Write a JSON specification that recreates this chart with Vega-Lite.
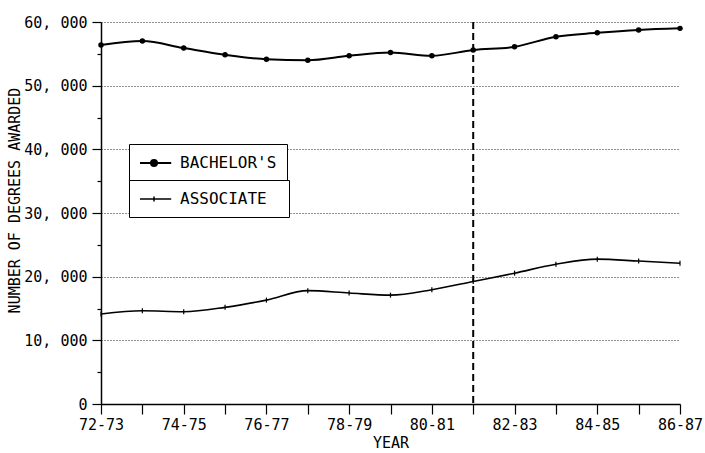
{
  "$schema": "https://vega.github.io/schema/vega-lite/v6.json",
  "width": 579,
  "height": 382,
  "autosize": "none",
  "padding": {"left": 101, "top": 22, "right": 25, "bottom": 49},
  "background": "white",
  "config": {
    "view": {"stroke": null},
    "font": "DejaVu Sans Mono",
    "axis": {
      "labelFont": "DejaVu Sans Mono",
      "titleFont": "DejaVu Sans Mono",
      "labelColor": "black",
      "titleColor": "black",
      "domainColor": "black",
      "tickColor": "black",
      "labelFontSize": 15,
      "titleFontSize": 15,
      "titleFontWeight": "normal"
    }
  },
  "datasets": {
    "degrees": [
      {"year": "72-73", "series": "BACHELOR'S", "degrees": 56400},
      {"year": "73-74", "series": "BACHELOR'S", "degrees": 57000},
      {"year": "74-75", "series": "BACHELOR'S", "degrees": 55900},
      {"year": "75-76", "series": "BACHELOR'S", "degrees": 54850},
      {"year": "76-77", "series": "BACHELOR'S", "degrees": 54150},
      {"year": "77-78", "series": "BACHELOR'S", "degrees": 54000},
      {"year": "78-79", "series": "BACHELOR'S", "degrees": 54700},
      {"year": "79-80", "series": "BACHELOR'S", "degrees": 55200},
      {"year": "80-81", "series": "BACHELOR'S", "degrees": 54700},
      {"year": "81-82", "series": "BACHELOR'S", "degrees": 55600},
      {"year": "82-83", "series": "BACHELOR'S", "degrees": 56100},
      {"year": "83-84", "series": "BACHELOR'S", "degrees": 57700},
      {"year": "84-85", "series": "BACHELOR'S", "degrees": 58300},
      {"year": "85-86", "series": "BACHELOR'S", "degrees": 58750},
      {"year": "86-87", "series": "BACHELOR'S", "degrees": 59000},
      {"year": "72-73", "series": "ASSOCIATE", "degrees": 14130},
      {"year": "73-74", "series": "ASSOCIATE", "degrees": 14650},
      {"year": "74-75", "series": "ASSOCIATE", "degrees": 14500},
      {"year": "75-76", "series": "ASSOCIATE", "degrees": 15180},
      {"year": "76-77", "series": "ASSOCIATE", "degrees": 16320},
      {"year": "77-78", "series": "ASSOCIATE", "degrees": 17800},
      {"year": "78-79", "series": "ASSOCIATE", "degrees": 17430},
      {"year": "79-80", "series": "ASSOCIATE", "degrees": 17100},
      {"year": "80-81", "series": "ASSOCIATE", "degrees": 17950},
      {"year": "81-82", "series": "ASSOCIATE", "degrees": 19250},
      {"year": "82-83", "series": "ASSOCIATE", "degrees": 20550},
      {"year": "83-84", "series": "ASSOCIATE", "degrees": 21950},
      {"year": "84-85", "series": "ASSOCIATE", "degrees": 22750},
      {"year": "85-86", "series": "ASSOCIATE", "degrees": 22450},
      {"year": "86-87", "series": "ASSOCIATE", "degrees": 22100}
    ],
    "marker": [{"year": "81-82"}]
  },
  "data": {"name": "degrees"},
  "encoding": {
    "x": {
      "field": "year",
      "type": "ordinal",
      "title": "YEAR",
      "scale": {
        "type": "point",
        "padding": 0,
        "domain": ["72-73", "73-74", "74-75", "75-76", "76-77", "77-78", "78-79", "79-80", "80-81", "81-82", "82-83", "83-84", "84-85", "85-86", "86-87"]
      },
      "axis": {
        "labelAngle": 0,
        "labelExpr": "indexof(['72-73','74-75','76-77','78-79','80-81','82-83','84-85','86-87'], datum.value) >= 0 ? datum.value : ''",
        "tickSize": 10,
        "tickWidth": 1.2,
        "domainWidth": 1.5,
        "labelPadding": 3,
        "titlePadding": 3,
        "grid": false
      }
    },
    "y": {
      "field": "degrees",
      "type": "quantitative",
      "title": "NUMBER OF DEGREES AWARDED",
      "scale": {"domain": [0, 60000], "nice": false},
      "axis": {
        "values": [0, 5000, 10000, 15000, 20000, 25000, 30000, 35000, 40000, 45000, 50000, 55000, 60000],
        "labelExpr": "datum.value % 10000 === 0 ? replace(format(datum.value, ','), ',', ', ') : ''",
        "tickSize": {"condition": {"test": "datum.value % 10000 === 0", "value": 9}, "value": 4},
        "tickWidth": 1.2,
        "domainWidth": 1.5,
        "labelPadding": 5,
        "grid": true,
        "gridDash": [1, 2],
        "gridColor": "#222",
        "gridWidth": 1,
        "gridOpacity": {"condition": {"test": "datum.value % 10000 === 0 && datum.value > 0", "value": 1}, "value": 0},
        "titlePadding": 1,
        "titleY": 178
      }
    }
  },
  "layer": [
    {
      "mark": {"type": "rule", "strokeDash": [7, 4], "strokeWidth": 2, "color": "black"},
      "data": {"name": "marker"},
      "encoding": {"y": null}
    },
    {
      "transform": [{"filter": "datum.series === \"BACHELOR'S\""}],
      "mark": {"type": "line", "interpolate": "monotone", "strokeWidth": 2},
      "encoding": {
        "color": {
          "field": "series",
          "type": "nominal",
          "scale": {"range": ["black"]},
          "legend": {
            "title": null,
            "orient": "none",
            "legendX": 28,
            "legendY": 122,
            "symbolType": "M-1,0H2.9M0.375,0A0.375,0.375,0,1,1,1.125,0A0.375,0.375,0,1,1,0.375,0Z",
            "symbolSize": 256,
            "symbolStrokeWidth": 2,
            "symbolFillColor": "black",
            "symbolStrokeColor": "black",
            "strokeColor": "black",
            "fillColor": "white",
            "padding": 10,
            "labelFont": "DejaVu Sans Mono",
            "labelFontSize": 16,
            "labelColor": "black",
            "labelOffset": 23
          }
        }
      }
    },
    {
      "transform": [{"filter": "datum.series === \"BACHELOR'S\""}],
      "mark": {"type": "point", "filled": true, "color": "black", "size": 30, "opacity": 1}
    },
    {
      "transform": [{"filter": "datum.series === 'ASSOCIATE'"}],
      "mark": {"type": "line", "interpolate": "monotone", "strokeWidth": 1.6},
      "encoding": {
        "color": {
          "field": "series",
          "type": "nominal",
          "scale": {"range": ["black"]},
          "legend": {
            "title": null,
            "orient": "none",
            "legendX": 28,
            "legendY": 158,
            "symbolType": "M-1,0H2.9M0.75,-0.3V0.3",
            "symbolSize": 256,
            "symbolStrokeWidth": 1.5,
            "symbolStrokeColor": "black",
            "strokeColor": "black",
            "fillColor": "white",
            "padding": 10,
            "labelFont": "DejaVu Sans Mono",
            "labelFontSize": 16,
            "labelColor": "black",
            "labelOffset": 23,
            "labelExpr": "datum.label + '\u2800'"
          }
        }
      }
    },
    {
      "transform": [{"filter": "datum.series === 'ASSOCIATE'"}],
      "mark": {"type": "point", "filled": false, "color": "black", "shape": "M0,-1V1", "size": 25, "strokeWidth": 1.2, "opacity": 1}
    }
  ],
  "resolve": {"scale": {"color": "independent"}, "legend": {"color": "independent"}}
}
